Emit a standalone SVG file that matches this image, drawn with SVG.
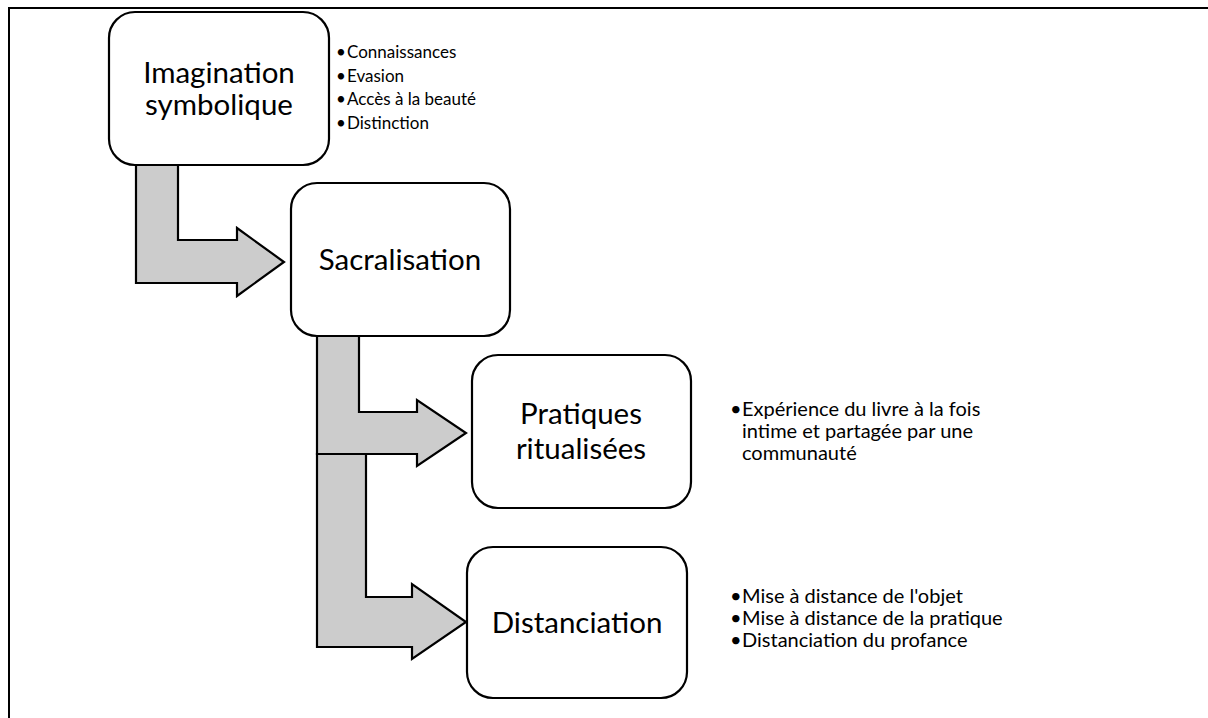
<svg xmlns="http://www.w3.org/2000/svg" width="1208" height="718" viewBox="0 0 1208 718">
<style>
.frame{fill:none;stroke:#000;stroke-width:2}
.box{fill:#fff;stroke:#000;stroke-width:2.2}
.arrow{fill:#cccccc;stroke:#000;stroke-width:2.2;stroke-linejoin:miter}
.lbl{font-family:Lato,"Open Sans","Liberation Sans",sans-serif;font-size:29.5px;fill:#000;text-anchor:middle}
.b1{font-family:Lato,"Open Sans","Liberation Sans",sans-serif;font-size:17px;fill:#000}
.b2{font-family:Lato,"Open Sans","Liberation Sans",sans-serif;font-size:20px;fill:#000}
</style>
<rect width="1208" height="718" fill="#fff"/>
<path class="frame" d="M9,718 L9,8 L1208,8"/>
<g id="connectors">
<path class="arrow" d="M136,165 L178,165 L178,240 L237,240 L237,228 L284,262 L237,296 L237,283 L136,283 Z"/>
<path class="arrow" d="M317,336 L359,336 L359,412 L417,412 L417,400 L466,433 L417,466 L417,454 L317,454 Z"/>
<path class="arrow" d="M317,454 L366,454 L366,597 L412,597 L412,584 L466,622 L412,659 L412,647 L317,647 Z"/>
</g>
<g id="node-imagination">
<rect class="box" x="109" y="12" width="220" height="153" rx="26"/>
<text class="lbl" x="219" y="83">Imagination</text>
<text class="lbl" x="219" y="115">symbolique</text>
</g>
<g id="bullets-imagination">
<text class="b1" x="336" y="58">•</text><text class="b1" x="347" y="58">Connaissances</text>
<text class="b1" x="336" y="82">•</text><text class="b1" x="347" y="82">Evasion</text>
<text class="b1" x="336" y="105">•</text><text class="b1" x="347" y="105">Accès à la beauté</text>
<text class="b1" x="336" y="129">•</text><text class="b1" x="347" y="129">Distinction</text>
</g>
<g id="node-sacralisation">
<rect class="box" x="291" y="183" width="219" height="153" rx="26"/>
<text class="lbl" x="400" y="270">Sacralisation</text>
</g>
<g id="node-pratiques">
<rect class="box" x="472" y="355" width="219" height="153" rx="26"/>
<text class="lbl" x="581" y="424">Pratiques</text>
<text class="lbl" x="581" y="459">ritualisées</text>
</g>
<g id="bullets-pratiques">
<text class="b2" x="730" y="416">•</text><text class="b2" x="742" y="416">Expérience du livre à la fois</text>
<text class="b2" x="742" y="438">intime et partagée par une</text>
<text class="b2" x="742" y="460">communauté</text>
</g>
<g id="node-distanciation">
<rect class="box" x="467" y="547" width="220" height="151" rx="26"/>
<text class="lbl" x="577" y="633">Distanciation</text>
</g>
<g id="bullets-distanciation">
<text class="b2" x="730" y="603">•</text><text class="b2" x="742" y="603">Mise à distance de l'objet</text>
<text class="b2" x="730" y="625">•</text><text class="b2" x="742" y="625">Mise à distance de la pratique</text>
<text class="b2" x="730" y="647">•</text><text class="b2" x="742" y="647">Distanciation du profance</text>
</g>
</svg>
